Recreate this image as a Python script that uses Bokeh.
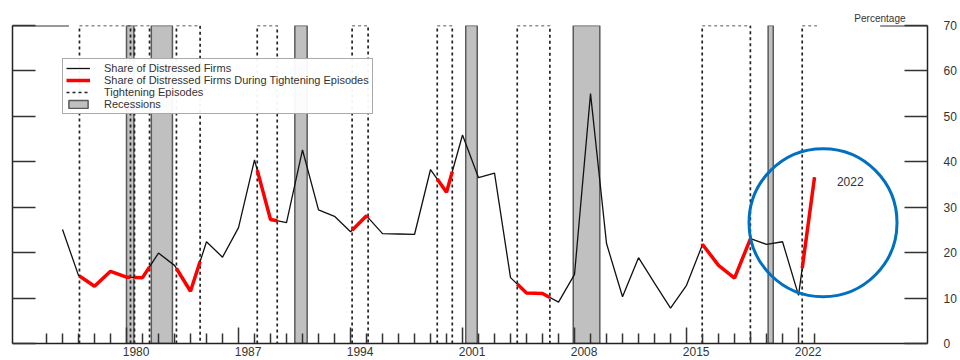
import numpy as np
from bokeh.plotting import figure
from bokeh.models import (Range1d, LinearAxis, FixedTicker, Legend, LegendItem,
                          CustomJSTickFormatter)
from bokeh.embed import file_html
from bokeh.resources import INLINE
from bokeh.core.properties import value

# ---------------- data ----------------
years = list(range(1975, 2023))          # data year (plotted at the year's end)
share = [25.1, 15.0, 12.6, 15.9, 14.6, 14.5, 19.9, 17.2, 11.5, 22.4,
         19.0, 25.5, 40.4, 27.3, 26.6, 42.6, 29.4, 28.0, 24.6, 28.1,
         24.2, 24.1, 24.0, 38.3, 33.3, 45.9, 36.5, 37.5, 14.5, 11.1,
         11.0, 9.1, 15.2, 55.0, 22.0, 10.3, 18.9, 13.3, 7.8, 12.8,
         21.8, 17.2, 14.4, 23.1, 21.8, 22.4, 10.6, 36.6]

tight_start = [1977.06, 1980.50, 1983.12, 1988.17, 1994.10, 1999.42, 2004.42, 2015.98, 2022.23]
tight_end   = [1980.25, 1981.44, 1984.60, 1989.42, 1995.10, 2000.36, 2006.46, 2018.99, 2023.15]
tight_open  = [False, False, False, False, False, False, False, False, True]

rec_start = [1980.00, 1981.55, 1990.52, 2001.20, 2007.92, 2020.10]
rec_end   = [1980.46, 1982.87, 1991.29, 2001.92, 2009.58, 2020.42]

label_years = [1980, 1987, 1994, 2001, 2008, 2015, 2022]
tick_years = list(range(1975, 2024))
y_ticks = [0, 10, 20, 30, 40, 50, 60, 70]

highlight_year = "2022"

# ---------------- derived ----------------
pos = np.array(years, dtype=float) + 1.0
vals = np.array(share, dtype=float)

red_xs, red_ys = [], []
for s, e in zip(tight_start, tight_end):
    e2 = min(e, pos[-1])
    inner = pos[(pos > s) & (pos < e2)]
    sx = [s] + list(inner) + [e2]
    red_xs.append(list(sx))
    red_ys.append(list(np.interp(sx, pos, vals)))

YMAX = 70
ep_xs, ep_ys = [], []
for s, e, o in zip(tight_start, tight_end, tight_open):
    if o:
        ep_xs.append([s, s, e]); ep_ys.append([0, YMAX, YMAX])
    else:
        ep_xs.append([s, s, e, e]); ep_ys.append([0, YMAX, YMAX, 0])

px_per_unit = 318 / 70.0
tick_h = [(16 if (t - 1980) % 7 == 0 else 10) / px_per_unit for t in tick_years]

FONT = "Liberation Sans"

# ---------------- figure ----------------
p = figure(width=960, height=360, output_backend="svg", toolbar_location=None,
           x_range=Range1d(1972.875, 2030.06), y_range=Range1d(0, YMAX),
           y_axis_location="right",
           title="Percentage", title_location="above",
           min_border_left=12, min_border_right=33, min_border_top=25, min_border_bottom=17)
p.title.align = "right"
p.title.text_font = FONT
p.title.text_font_size = "10px"
p.title.text_font_style = "normal"
p.title.text_color = "#333333"
p.title.standoff = 4
p.title.offset = 22

p.outline_line_color = None
p.xgrid.visible = False
p.ygrid.visible = False
p.background_fill_color = "white"
p.border_fill_color = "white"

# recessions
r_rec = p.quad(left=rec_start, right=rec_end, bottom=0, top=YMAX,
               fill_color="#C0C0C0", line_color="#5a5a5a", line_width=1.5)

# tightening episodes
r_ep = p.multi_line(xs=ep_xs, ys=ep_ys, line_color="#222222", line_width=1.7, line_dash="3 3")

# year ticks along the bottom
p.segment(x0=tick_years, y0=[0] * len(tick_years), x1=tick_years, y1=tick_h,
          line_color="#333333", line_width=1.5)

# top frame remnants
p.segment(x0=[1972.875, 2027.1], y0=[YMAX, YMAX], x1=[1976.4, 2030.06], y1=[YMAX, YMAX],
          line_color="#333333", line_width=2)

# lines
r_blk = p.line(pos, vals, line_color="#111111", line_width=1.3)
r_red = p.multi_line(xs=red_xs, ys=red_ys, line_color="#FF0000", line_width=3.5)

# highlight circle + label
p.scatter(x=[2023.53], y=[26.6], size=148, marker="circle", fill_color=None,
          line_color="#0070C0", line_width=3)
p.text(x=[2024.4], y=[35.7], text=[highlight_year], text_font=value(FONT),
       text_font_size="12px", text_baseline="middle", text_align="left", text_color="#333333")

# axes
p.xaxis.ticker = FixedTicker(ticks=[y + 0.6 for y in label_years])
p.xaxis.formatter = CustomJSTickFormatter(code="return Math.floor(tick).toString()")
p.xaxis.major_tick_in = 0
p.xaxis.major_tick_out = 0
p.xaxis.minor_tick_line_color = None
p.xaxis.axis_line_width = 1.5
p.xaxis.axis_line_color = "#222222"
p.xaxis.major_label_standoff = 3
p.xaxis.major_label_text_font = FONT
p.xaxis.major_label_text_font_size = "12px"
p.xaxis.major_label_text_color = "#333333"

p.yaxis.ticker = FixedTicker(ticks=y_ticks)
p.yaxis.major_tick_in = 23
p.yaxis.major_tick_out = 0
p.yaxis.minor_tick_line_color = None
p.yaxis.major_tick_line_width = 1.5
p.yaxis.major_tick_line_color = "#333333"
p.yaxis.axis_line_width = 1.5
p.yaxis.axis_line_color = "#222222"
p.yaxis.major_label_standoff = 16
p.yaxis.major_label_text_font = FONT
p.yaxis.major_label_text_font_size = "12px"
p.yaxis.major_label_text_color = "#333333"

left_axis = LinearAxis(ticker=FixedTicker(ticks=y_ticks), major_tick_in=23, major_tick_out=0,
                       minor_tick_line_color=None, major_tick_line_width=1.5,
                       major_tick_line_color="#333333", axis_line_width=1.5,
                       axis_line_color="#222222",
                       formatter=CustomJSTickFormatter(code="return ''"),
                       major_label_standoff=0)
p.add_layout(left_axis, "left")

legend = Legend(items=[
    LegendItem(label="Share of Distressed Firms", renderers=[r_blk]),
    LegendItem(label="Share of Distressed Firms During Tightening Episodes", renderers=[r_red]),
    LegendItem(label="Tightening Episodes", renderers=[r_ep]),
    LegendItem(label="Recessions", renderers=[r_rec]),
], location=(50, 229))
legend.label_text_font = FONT
legend.label_text_font_size = "11px"
legend.label_text_color = "#333333"
legend.glyph_width = 24
legend.glyph_height = 10
legend.label_height = 10
legend.spacing = 0
legend.padding = 3
legend.margin = 0
legend.label_standoff = 14
legend.border_line_color = "#555555"
legend.border_line_width = 1
p.add_layout(legend)

open("out.html", "w").write(file_html(p, INLINE))
